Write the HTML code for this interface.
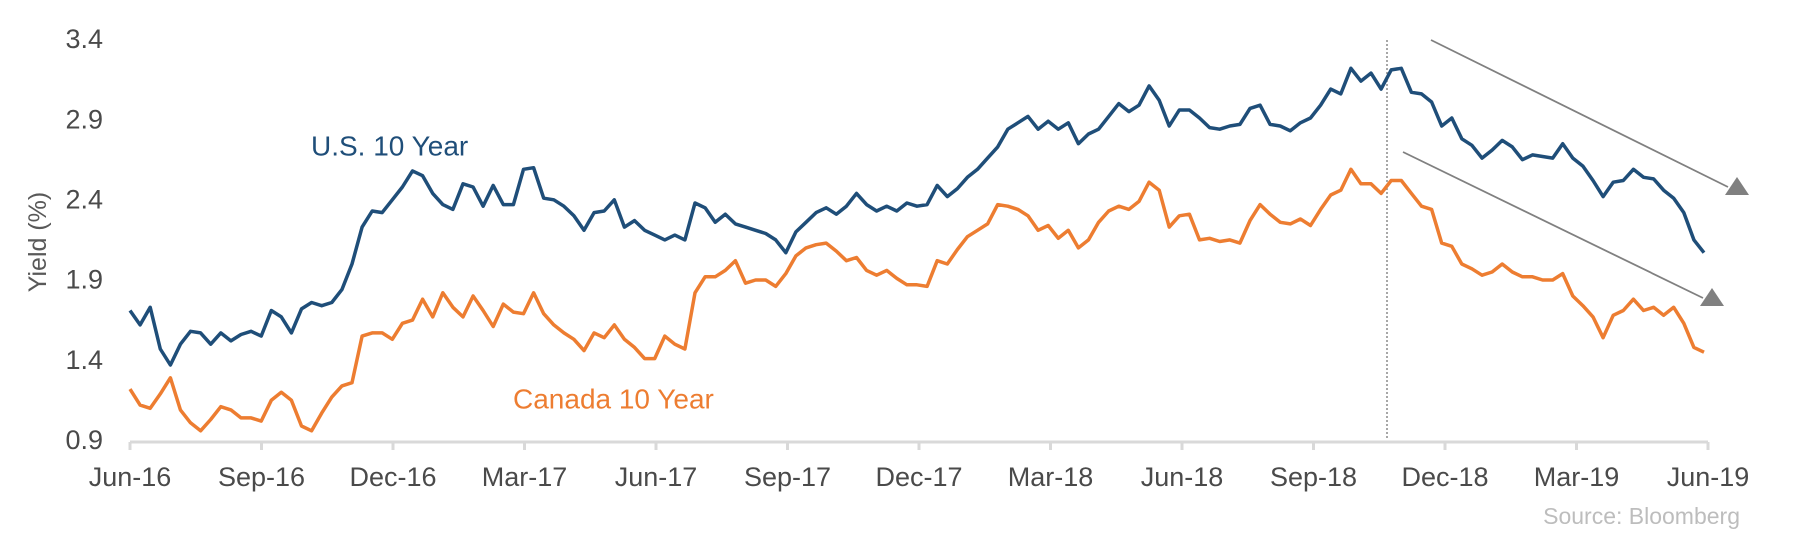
<!DOCTYPE html>
<html><head><meta charset="utf-8">
<style>
html,body{margin:0;padding:0;background:#fff;}
svg{display:block;font-family:"Liberation Sans",sans-serif;}
</style></head>
<body>
<svg id="chart" width="1794" height="550" viewBox="0 0 1794 550" xmlns="http://www.w3.org/2000/svg">
  <g id="yaxis"></g>
  <text x="0" y="0" transform="translate(46,242) rotate(-90)" text-anchor="middle" font-size="25" fill="#595959">Yield (%)</text>
  <g id="xaxis"></g>
  <line x1="1387" y1="40" x2="1387" y2="438" stroke="#8a8a8a" stroke-width="1.5" stroke-dasharray="2,2"/>
  <g id="series"></g>
  <text x="311" y="148" font-size="28" fill="#1f4e79" dominant-baseline="middle">U.S. 10 Year</text>
  <text x="513" y="401" font-size="28" fill="#ed7d31" dominant-baseline="middle">Canada 10 Year</text>
  <g>
    <line x1="1431" y1="40" x2="1728" y2="187" stroke="#808080" stroke-width="1.8"/>
    <polygon points="1737,177 1725,195 1749,195" fill="#808080"/>
  </g>
  <g>
    <line x1="1403" y1="152" x2="1703" y2="298" stroke="#808080" stroke-width="1.8"/>
    <polygon points="1712,288 1700,306 1724,306" fill="#808080"/>
  </g>
  <text x="1740" y="518" text-anchor="end" font-size="23" fill="#bdbdbd" dominant-baseline="middle">Source: Bloomberg</text>
</svg>
<script>
const xTickLabels = ["Jun-16","Sep-16","Dec-16","Mar-17","Jun-17","Sep-17","Dec-17","Mar-18","Jun-18","Sep-18","Dec-18","Mar-19","Jun-19"];
const yTickValues = [0.9,1.4,1.9,2.4,2.9,3.4];
const usYield = [1.72,1.63,1.74,1.48,1.38,1.51,1.59,1.58,1.51,1.58,1.53,1.57,1.59,1.56,1.72,1.68,1.58,1.73,1.77,1.75,1.77,1.85,2.01,2.24,2.34,2.33,2.41,2.49,2.59,2.56,2.45,2.38,2.35,2.51,2.49,2.37,2.50,2.38,2.38,2.60,2.61,
2.42,2.41,2.37,2.31,2.22,2.33,2.34,2.41,2.24,2.28,2.22,2.19,2.16,2.19,2.16,2.39,2.36,2.27,2.32,2.26,2.24,2.22,2.20,2.16,2.08,2.21,2.27,2.33,2.36,2.32,2.37,2.45,2.38,2.34,2.37,2.34,2.39,2.37,2.38,2.50,
2.43,2.48,2.55,2.60,2.67,2.74,2.85,2.89,2.93,2.85,2.90,2.85,2.89,2.76,2.82,2.85,2.93,3.01,2.96,3.00,3.12,3.03,2.87,2.97,2.97,2.92,2.86,2.85,2.87,2.88,2.98,3.00,2.88,2.87,2.84,2.89,2.92,3.00,3.10,
3.07,3.23,3.15,3.20,3.10,3.22,3.23,3.08,3.07,3.02,2.87,2.92,2.79,2.75,2.67,2.72,2.78,2.74,2.66,2.69,2.68,2.67,2.76,2.67,2.62,2.53,2.43,2.52,2.53,2.60,2.55,2.54,2.47,2.42,2.33,2.16,2.08];
const canadaYield = [1.23,1.13,1.11,1.20,1.30,1.10,1.02,0.97,1.04,1.12,1.10,1.05,1.05,1.03,1.16,1.21,1.16,1.00,0.97,1.08,1.18,1.25,1.27,1.56,1.58,1.58,1.54,1.64,1.66,1.79,1.68,1.83,1.74,1.68,1.81,1.72,1.62,1.76,1.71,1.70,1.83,
1.70,1.63,1.58,1.54,1.47,1.58,1.55,1.63,1.54,1.49,1.42,1.42,1.56,1.51,1.48,1.83,1.93,1.93,1.97,2.03,1.89,1.91,1.91,1.87,1.95,2.06,2.11,2.13,2.14,2.09,2.03,2.05,1.97,1.94,1.97,1.92,1.88,1.88,1.87,2.03,
2.01,2.10,2.18,2.22,2.26,2.38,2.37,2.35,2.31,2.22,2.25,2.17,2.22,2.11,2.16,2.27,2.34,2.37,2.35,2.40,2.52,2.47,2.24,2.31,2.32,2.16,2.17,2.15,2.16,2.14,2.28,2.38,2.32,2.27,2.26,2.29,2.25,2.35,2.44,
2.47,2.60,2.51,2.51,2.45,2.53,2.53,2.45,2.37,2.35,2.14,2.12,2.01,1.98,1.94,1.96,2.01,1.96,1.93,1.93,1.91,1.91,1.95,1.81,1.75,1.68,1.55,1.69,1.72,1.79,1.72,1.74,1.69,1.74,1.64,1.49,1.46];

const NS = "http://www.w3.org/2000/svg";
const X0 = 130, X1 = 1708, Y0 = 442;
function yScale(v){ return Y0 - (v - 0.9) * 160.4; }
function xWeek(i, n){ return X0 + i * ((1704 - X0) / (n - 1)); }
function xQuarter(q){ return X0 + q * ((X1 - X0) / (xTickLabels.length - 1)); }

const yaxis = document.getElementById('yaxis');
yTickValues.forEach(v => {
  const t = document.createElementNS(NS, 'text');
  
  
  t.setAttribute('x', 103);
  t.setAttribute('y', yScale(v));
  t.setAttribute('text-anchor', 'end');
  t.setAttribute('dominant-baseline', 'middle');
  t.setAttribute('font-size', '27');
  t.setAttribute('fill', '#4a4a4a');
  t.textContent = v.toFixed(1);
  yaxis.appendChild(t);
});

const xaxis = document.getElementById('xaxis');
const base = document.createElementNS(NS, 'line');


base.setAttribute('x1', X0); base.setAttribute('x2', X1);
base.setAttribute('y1', Y0); base.setAttribute('y2', Y0);
base.setAttribute('stroke', '#d9d9d9'); base.setAttribute('stroke-width', '3');
xaxis.appendChild(base);
xTickLabels.forEach((lab, q) => {
  const x = xQuarter(q);
  const tk = document.createElementNS(NS, 'line');
  
  
  tk.setAttribute('x1', x); tk.setAttribute('x2', x);
  tk.setAttribute('y1', Y0); tk.setAttribute('y2', Y0 + 8);
  tk.setAttribute('stroke', '#d9d9d9'); tk.setAttribute('stroke-width', '3');
  xaxis.appendChild(tk);
  const t = document.createElementNS(NS, 'text');
  
  
  t.setAttribute('x', x); t.setAttribute('y', 479);
  t.setAttribute('text-anchor', 'middle');
  t.setAttribute('dominant-baseline', 'middle');
  t.setAttribute('font-size', '27');
  t.setAttribute('fill', '#4a4a4a');
  t.textContent = lab;
  xaxis.appendChild(t);
});

const series = document.getElementById('series');
function drawLine(vals, color, name){
  const d = vals.map((v, i) => (i ? 'L' : 'M') + xWeek(i, vals.length).toFixed(1) + ',' + yScale(v).toFixed(1)).join(' ');
  const p = document.createElementNS(NS, 'path');
  
  
  p.setAttribute('d', d);
  p.setAttribute('fill', 'none');
  p.setAttribute('stroke', color);
  p.setAttribute('stroke-width', '3.5');
  p.setAttribute('stroke-linejoin', 'round');
  series.appendChild(p);
}
drawLine(canadaYield, '#ed7d31', 'canada-10y-line');
drawLine(usYield, '#1f4e79', 'us-10y-line');
</script>
</body></html>
